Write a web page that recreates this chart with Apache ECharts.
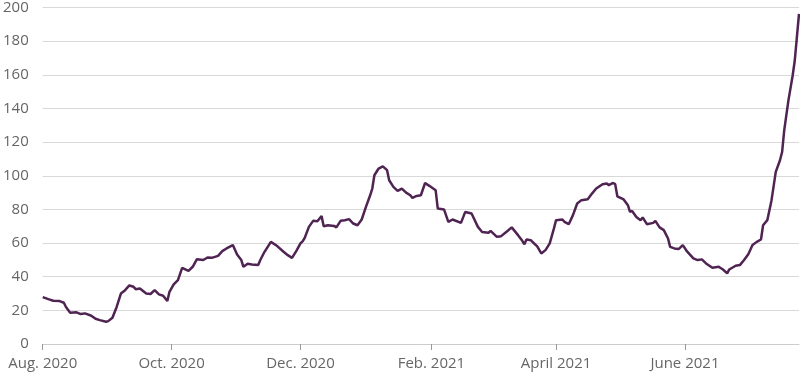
<!DOCTYPE html>
<html>
<head>
<meta charset="utf-8">
<script src="https://cdn.jsdelivr.net/npm/echarts@6/dist/echarts.min.js"></script>
<style>
html,body{margin:0;padding:0;background:#fff;}
#c{width:800px;height:375px;}
</style>
</head>
<body>
<div id="c"></div>
<script>
const dates = [
'2020-08-01','2020-08-04','2020-08-06','2020-08-09','2020-08-11','2020-08-12','2020-08-14','2020-08-17','2020-08-19','2020-08-21',
'2020-08-24','2020-08-26','2020-08-28','2020-08-31','2020-09-01','2020-09-03','2020-09-05','2020-09-07','2020-09-09','2020-09-11',
'2020-09-13','2020-09-14','2020-09-16','2020-09-19','2020-09-21','2020-09-23','2020-09-25','2020-09-27','2020-09-29','2020-09-30',
'2020-10-02','2020-10-04','2020-10-06','2020-10-09','2020-10-11','2020-10-13','2020-10-16','2020-10-18','2020-10-20','2020-10-23',
'2020-10-25','2020-10-27','2020-10-30','2020-11-01','2020-11-03','2020-11-04','2020-11-06','2020-11-08','2020-11-11','2020-11-12',
'2020-11-14','2020-11-17','2020-11-20','2020-11-23','2020-11-25','2020-11-27','2020-11-29','2020-12-01','2020-12-02','2020-12-03',
'2020-12-05','2020-12-07','2020-12-09','2020-12-11','2020-12-12','2020-12-14','2020-12-17','2020-12-18','2020-12-20','2020-12-22',
'2020-12-24','2020-12-26','2020-12-28','2020-12-30','2021-01-01','2021-01-03','2021-01-04','2021-01-05','2021-01-07','2021-01-09',
'2021-01-11','2021-01-12','2021-01-14','2021-01-16','2021-01-18','2021-01-20','2021-01-22','2021-01-23','2021-01-25','2021-01-27',
'2021-01-29','2021-01-31','2021-02-03','2021-02-04','2021-02-07','2021-02-09','2021-02-11','2021-02-15','2021-02-17','2021-02-20',
'2021-02-23','2021-02-25','2021-02-28','2021-03-01','2021-03-04','2021-03-06','2021-03-09','2021-03-11','2021-03-14','2021-03-16',
'2021-03-17','2021-03-18','2021-03-20','2021-03-22','2021-03-23','2021-03-25','2021-03-27','2021-03-29','2021-03-31','2021-04-01',
'2021-04-04','2021-04-05','2021-04-07','2021-04-09','2021-04-11','2021-04-13','2021-04-16','2021-04-18','2021-04-20','2021-04-23',
'2021-04-25','2021-04-26','2021-04-28','2021-04-29','2021-04-30','2021-05-03','2021-05-05','2021-05-06','2021-05-07','2021-05-09',
'2021-05-11','2021-05-12','2021-05-14','2021-05-17','2021-05-18','2021-05-20','2021-05-22','2021-05-24','2021-05-25','2021-05-27',
'2021-05-29','2021-05-31','2021-06-02','2021-06-05','2021-06-07','2021-06-09','2021-06-11','2021-06-14','2021-06-17','2021-06-19',
'2021-06-21','2021-06-22','2021-06-25','2021-06-27','2021-06-29','2021-07-01','2021-07-03','2021-07-05','2021-07-07','2021-07-08',
'2021-07-10','2021-07-12','2021-07-14','2021-07-16','2021-07-17','2021-07-18','2021-07-20','2021-07-22','2021-07-23','2021-07-24',
'2021-07-25'
];
const values = [
27.9,26.5,25.7,25.5,24.5,22,18.6,18.8,17.8,18.2,
16.8,15,14.2,13.2,13.6,15.6,22,30,32,34.8,
34,32.6,33,30,29.7,32,29.5,28.7,25.5,31,
35.5,38,45.3,43.5,45.9,50.4,49.9,51.4,51.2,52.4,
55.2,56.8,58.8,53.2,49.9,45.9,47.7,47.3,46.9,49.9,
54.8,60.7,58.2,54.8,52.8,51.2,55.2,59.8,61,63,
69.6,73.2,73,76,70,70.6,70.2,69.3,73.2,73.6,
74.2,71.6,70.6,74,81.5,88.4,92.4,100.3,104.3,105.6,
103.3,97.3,93.4,91,92.4,90,88.4,86.8,88,88.4,
95.7,94,91.4,80.5,79.9,72.6,74,72,78.5,77.6,
69.6,66.6,66.1,67.2,63.7,64.1,67.2,69.3,64.7,61.3,
59.3,62.1,61.7,59.3,58.2,53.8,55.8,59.8,68.7,73.6,
74,72.6,71.2,76.6,83.5,85.5,86,89.4,92.4,95,
95.4,94.4,95.7,95,87.8,85.9,82.5,78.5,79.1,75.5,
73.6,75.2,71.2,72,73.2,69.3,67.7,62.7,57.7,56.8,
56.4,58.8,55,50.9,49.9,50.3,47.9,45.3,45.9,44.3,
42,44.3,46.5,46.9,49.9,53.4,58.8,60.7,62.1,70.6,
73.6,85.5,102.3,109.2,114.1,127,144.8,159.6,168.5,182.4,
196.2
];
const tickDates = ['2020-08-01','2020-10-01','2020-12-01','2021-02-01','2021-04-01','2021-06-01'];
const tickLabels = ['Aug. 2020','Oct. 2020','Dec. 2020','Feb. 2021','April 2021','June 2021'];
const yTicks = [0,20,40,60,80,100,120,140,160,180,200];

function ts(s){const p=s.split('-').map(Number);return Date.UTC(p[0],p[1]-1,p[2]);}
const tickTs = tickDates.map(ts);
const labelMap = {};
tickTs.forEach((t,i)=>{labelMap[t]=tickLabels[i];});

const chart = echarts.init(document.getElementById('c'), null, {renderer:'canvas'});
const font = "'Open Sans', sans-serif";
chart.setOption({
  animation:false,
  grid:{left:42,right:1,top:7,bottom:31,containLabel:false},
  xAxis:{
    type:'value',
    min:ts(dates[0]),
    max:ts(dates[dates.length-1]),
    axisLine:{show:true,lineStyle:{color:'#cccccc',width:1}},
    axisTick:{show:true,length:6,lineStyle:{color:'#999999'},customValues:tickTs},
    axisLabel:{customValues:tickTs,color:'#666666',fontSize:15,fontFamily:font,margin:12,
      formatter:function(v){return labelMap[v]||'';}},
    splitLine:{show:false}
  },
  yAxis:{
    type:'value',min:yTicks[0],max:yTicks[yTicks.length-1],interval:20,
    axisLine:{show:false},axisTick:{show:false},
    axisLabel:{color:'#666666',fontSize:15,fontFamily:font,margin:14},
    splitLine:{lineStyle:{color:'#d9d9d9',width:1}}
  },
  series:[{
    type:'line',
    data:dates.map((d,i)=>[ts(d),values[i]]),
    showSymbol:false,
    lineStyle:{color:'#4f2352',width:2.5},
    itemStyle:{color:'#4f2352'}
  }]
});
</script>
</body>
</html>
